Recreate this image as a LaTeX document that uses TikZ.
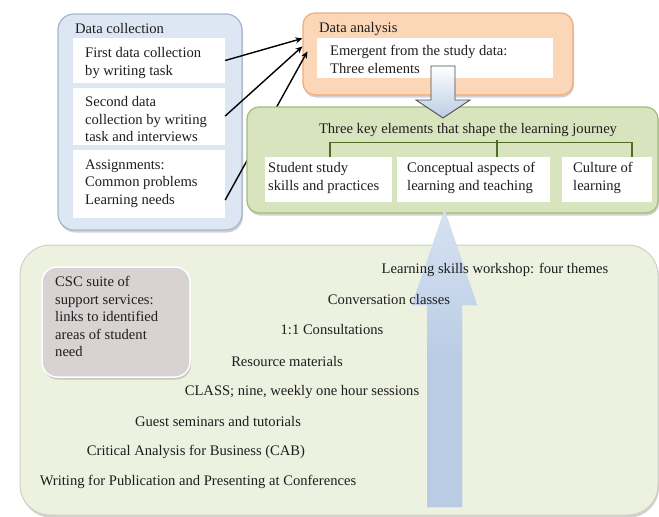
\documentclass[tikz,border=0pt]{standalone}
\usepackage{fontspec}
\setmainfont{Liberation Serif}
\usetikzlibrary{shadows,calc,arrows.meta}
\definecolor{dcfill}{RGB}{221,231,243}
\definecolor{dcborder}{RGB}{165,182,208}
\definecolor{dafill}{RGB}{251,214,183}
\definecolor{daborder}{RGB}{238,172,126}
\definecolor{gnfill}{RGB}{216,228,190}
\definecolor{gnborder}{RGB}{163,188,115}
\definecolor{brk}{RGB}{78,108,40}
\definecolor{bgfill}{RGB}{236,241,224}
\definecolor{bgborder}{RGB}{205,210,195}
\definecolor{cscfill}{RGB}{216,211,210}
\definecolor{arrblue}{RGB}{186,204,228}
\definecolor{arrlight}{RGB}{214,226,242}
\definecolor{txtc}{RGB}{30,30,30}
\begin{document}
\begin{tikzpicture}[x=1pt,y=-1pt,
  txt/.style={inner sep=0pt, font=\fontsize{14.6}{17.5}\selectfont, text=txtc},
  ml/.style={txt, align=left, anchor=north west},
  whitebox/.style={fill=white, draw=none, inner sep=0pt},
  shad/.style={drop shadow={opacity=0.35, shadow xshift=1pt, shadow yshift=-2.5pt}},
  link/.style={-{Stealth[length=7pt,width=6pt]}, line width=1.4pt, black},
  bracket/.style={draw=brk, line width=1.3pt}
]
\useasboundingbox (0,0) rectangle (659,517);
\fill[white] (0,0) rectangle (659,517);

% ---------- Data collection ----------
\node[shad, draw=dcborder, fill=dcfill, line width=1.2pt, rounded corners=16pt,
      minimum width=184pt, minimum height=216pt, inner sep=0pt] (dc) at (150,122) {};
\node[ml] (dct) at (75,23) {Data collection};
\node[whitebox, minimum width=152pt, minimum height=45pt] (b1) at (149,60.5) {};
\node[whitebox, minimum width=152pt, minimum height=57pt] (b2) at (149,116) {};
\node[whitebox, minimum width=152pt, minimum height=68pt] (b3) at (149,184) {};
\node[ml] (b1t) at (85,47.5) {First data collection\\by writing task};
\node[ml] (b2t) at (85,96.5) {Second data\\collection by writing\\task and interviews};
\node[ml] (b3t) at (85,159.5) {Assignments:\\Common problems\\Learning needs};

% ---------- Data analysis ----------
\node[shad, draw=daborder, fill=dafill, line width=1.2pt, rounded corners=12pt,
      minimum width=270pt, minimum height=82pt, inner sep=0pt] (da) at (438,54) {};
\node[ml] (dat) at (319,22.5) {Data analysis};
\node[whitebox, minimum width=236pt, minimum height=40pt] (dai) at (435,58) {};
\node[ml] (dait) at (330,45.5) {Emergent from the study data:\\Three elements};

% ---------- links ----------
\draw[link] (b1.east) -- ($(da.north west)+(0,26)$);
\draw[link] (b2.east) -- ($(da.north west)+(0,34)$);
\draw[link] ($(b3.east)+(0,16)$) -- ($(da.north west)+(5,39)$);

% ---------- Three key elements ----------
\node[shad, draw=gnborder, fill=gnfill, line width=1.2pt, rounded corners=12pt,
      minimum width=411pt, minimum height=106pt, inner sep=0pt] (ke) at (452.5,160) {};
\node[txt] (ket) at (468,130) {Three key elements that shape the learning journey};
\node[whitebox, minimum width=127pt, minimum height=45pt] (k1) at (328.5,179.5) {};
\node[whitebox, minimum width=153pt, minimum height=45pt] (k2) at (473.5,179.5) {};
\node[whitebox, minimum width=90pt, minimum height=45pt] (k3) at (607,179.5) {};
\node[ml] (k1t) at (268,162.5) {Student study\\skills and practices};
\node[ml] (k2t) at (407,162.5) {Conceptual aspects of\\learning and teaching};
\node[ml] (k3t) at (573,162.5) {Culture of\\learning};
\draw[bracket] ($(k1.north)+(1.5,0)$) -- ++(0,-14) -| ($(k3.north)+(25,0)$);
\draw[bracket] ($(k2.north)+(23.5,0)$) -- ++(0,-17);

% ---------- down block arrow ----------
\path[draw=black!70, line width=0.9pt, top color=white, bottom color=arrblue]
  (431,66) coordinate (dn1) -- (455,66) -- (455,100) -- (470,100)
  -- (443,118) coordinate (dntip) -- (416,100) -- (431,100) -- cycle;

% ---------- bottom support box ----------
\node[shad, draw=bgborder, fill=bgfill, line width=1pt, rounded corners=30pt,
      minimum width=638pt, minimum height=270pt, inner sep=0pt] (sup) at (339,380) {};
\node[shad, draw=white, fill=cscfill, line width=1.5pt, rounded corners=15pt,
      minimum width=148pt, minimum height=110pt, inner sep=0pt] (csc) at (116,322) {};
\node[ml] (csct) at (55,276.5) {CSC suite of\\support services:\\links to identified\\areas of student\\need};

% ---------- up block arrow ----------
\path[fill=arrblue, top color=arrlight, bottom color=arrblue, middle color=arrblue]
  (427,507) coordinate (up1) -- (462,507) -- (462,305) -- (477,305)
  -- (444.5,210) coordinate (uptip) -- (412,305) -- (427,305) -- cycle;

% ---------- list ----------
\node[txt] (l1) at (495,270) {Learning skills workshop: four themes};
\node[txt] (l2) at (389,300) {Conversation classes};
\node[txt] (l3) at (332,330) {1:1 Consultations};
\node[txt] (l4) at (287,362) {Resource materials};
\node[txt] (l5) at (302,392) {CLASS; nine, weekly one hour sessions};
\node[txt] (l6) at (218,422) {Guest seminars and tutorials};
\node[txt] (l7) at (196,452) {Critical Analysis for Business (CAB)};
\node[txt] (l8) at (198,482) {Writing for Publication and Presenting at Conferences};
\end{tikzpicture}
\end{document}
